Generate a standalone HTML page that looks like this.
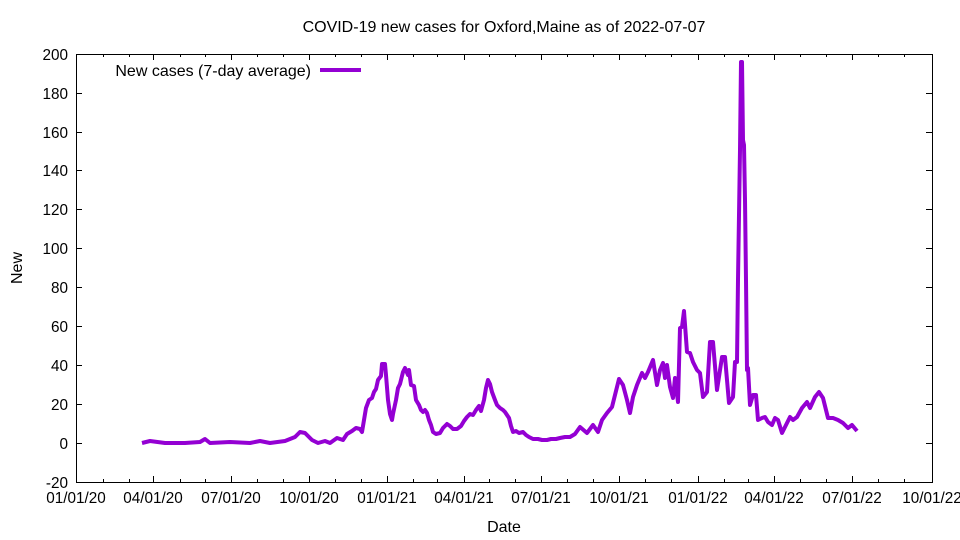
<!DOCTYPE html>
<html><head><meta charset="utf-8"><style>body{margin:0;background:#fff}svg{display:block}text{font-family:"Liberation Sans",Arial,sans-serif;font-size:15.3px;fill:#000}.big{font-size:16px}</style></head><body>
<svg width="960" height="540" viewBox="0 0 960 540" xmlns="http://www.w3.org/2000/svg">
<text class="big" x="504" y="32" text-anchor="middle">COVID-19 new cases for Oxford,Maine as of 2022-07-07</text>
<g stroke="#000" stroke-width="1" fill="none">
<rect x="76.5" y="54.5" width="856" height="428"/>
<path d="M76 482.5h6M932 482.5h-6M76 443.5h6M932 443.5h-6M76 404.5h6M932 404.5h-6M76 365.5h6M932 365.5h-6M76 326.5h6M932 326.5h-6M76 287.5h6M932 287.5h-6M76 248.5h6M932 248.5h-6M76 209.5h6M932 209.5h-6M76 170.5h6M932 170.5h-6M76 132.5h6M932 132.5h-6M76 93.5h6M932 93.5h-6"/>
<path d="M76.5 482v-6M76.5 54v6M103.5 482v-3M103.5 54v3M129.5 482v-3M129.5 54v3M153.5 482v-6M153.5 54v6M180.5 482v-3M180.5 54v3M205.5 482v-3M205.5 54v3M231.5 482v-6M231.5 54v6M257.5 482v-3M257.5 54v3M283.5 482v-3M283.5 54v3M309.5 482v-6M309.5 54v6M335.5 482v-3M335.5 54v3M361.5 482v-3M361.5 54v3M387.5 482v-6M387.5 54v6M413.5 482v-3M413.5 54v3M437.5 482v-3M437.5 54v3M464.5 482v-6M464.5 54v6M489.5 482v-3M489.5 54v3M515.5 482v-3M515.5 54v3M541.5 482v-6M541.5 54v6M567.5 482v-3M567.5 54v3M593.5 482v-3M593.5 54v3M619.5 482v-6M619.5 54v6M645.5 482v-3M645.5 54v3M671.5 482v-3M671.5 54v3M698.5 482v-6M698.5 54v6M724.5 482v-3M724.5 54v3M748.5 482v-3M748.5 54v3M774.5 482v-6M774.5 54v6M800.5 482v-3M800.5 54v3M826.5 482v-3M826.5 54v3M852.5 482v-6M852.5 54v6M878.5 482v-3M878.5 54v3M904.5 482v-3M904.5 54v3M932.5 482v-6"/>
</g>
<g text-anchor="end">
<text x="68" y="488">-20</text><text x="68" y="449">0</text><text x="68" y="410">20</text><text x="68" y="371">40</text><text x="68" y="332">60</text><text x="68" y="293">80</text><text x="68" y="254">100</text><text x="68" y="215">120</text><text x="68" y="176">140</text><text x="68" y="138">160</text><text x="68" y="99">180</text><text x="68" y="60">200</text>
</g>
<g text-anchor="middle">
<text x="76" y="503">01/01/20</text><text x="153" y="503">04/01/20</text><text x="231" y="503">07/01/20</text><text x="309" y="503">10/01/20</text><text x="387" y="503">01/01/21</text><text x="464" y="503">04/01/21</text><text x="541" y="503">07/01/21</text><text x="619" y="503">10/01/21</text><text x="698" y="503">01/01/22</text><text x="774" y="503">04/01/22</text><text x="852" y="503">07/01/22</text><text x="932" y="503">10/01/22</text>
<text class="big" x="504" y="532">Date</text>
</g>
<text class="big" transform="translate(22,268) rotate(-90)" text-anchor="middle">New</text>
<text class="big" x="311" y="76" text-anchor="end">New cases (7-day average)</text>
<path d="M320 70H361" stroke="#9400d3" stroke-width="4"/>
<polyline fill="none" stroke="#9400d3" stroke-width="4" stroke-linejoin="round" points="142,443 150,441 165,443 185,443 200,442 205,439 210,443 230,442 250,443 260,441 270,443 285,441 290,439 295,437 300,432 305,433 312,440 318,443 325,441 330,443 337,438 343,440 347,434 352,431 356,428 360,429 362,432 364,420 366,408 369,400 372,398 374,392 376,389 378,380 381,376 382,364 385,364 386,375 388,400 390,414 392,420 393,414 396,400 398,388 400,384 403,372 405,368 408,375 409,370 411,385 414,386 416,400 419,405 421,410 423,412 425,410 427,413 429,420 431,425 433,432 436,434 440,433 443,428 447,424 450,426 453,429 457,429 461,426 464,421 467,417 470,414 473,415 476,410 479,406 481,411 484,400 486,388 488,380 490,384 492,392 495,400 497,405 500,408 503,410 505,412 507,415 509,418 511,426 513,432 516,431 519,433 523,432 526,435 529,437 533,439 538,439 542,440 547,440 551,439 556,439 560,438 565,437 570,437 575,434 580,427 587,433 593,425 598,432 602,420 607,413 612,407 615,395 619,379 623,385 627,400 630,413 633,397 637,385 642,373 645,378 648,372 653,360 657,385 660,370 663,363 665,378 667,365 670,387 673,398 675,378 678,402 680,328 682,327 684,311 687,352 690,353 693,362 697,370 700,373 703,397 707,392 710,342 713,342 717,390 722,357 725,357 729,403 733,397 735,362 737,362 738,280 740,150 741,62 742,62 743,140 744,145 745,200 746,280 747,370 748,368 750,405 753,395 756,395 758,420 762,418 765,417 768,422 772,425 775,418 778,420 782,433 787,423 790,417 793,420 797,417 802,408 807,402 810,408 815,397 819,392 823,398 828,418 833,418 838,420 843,423 848,428 852,425 857,431"/>
</svg>
</body></html>
